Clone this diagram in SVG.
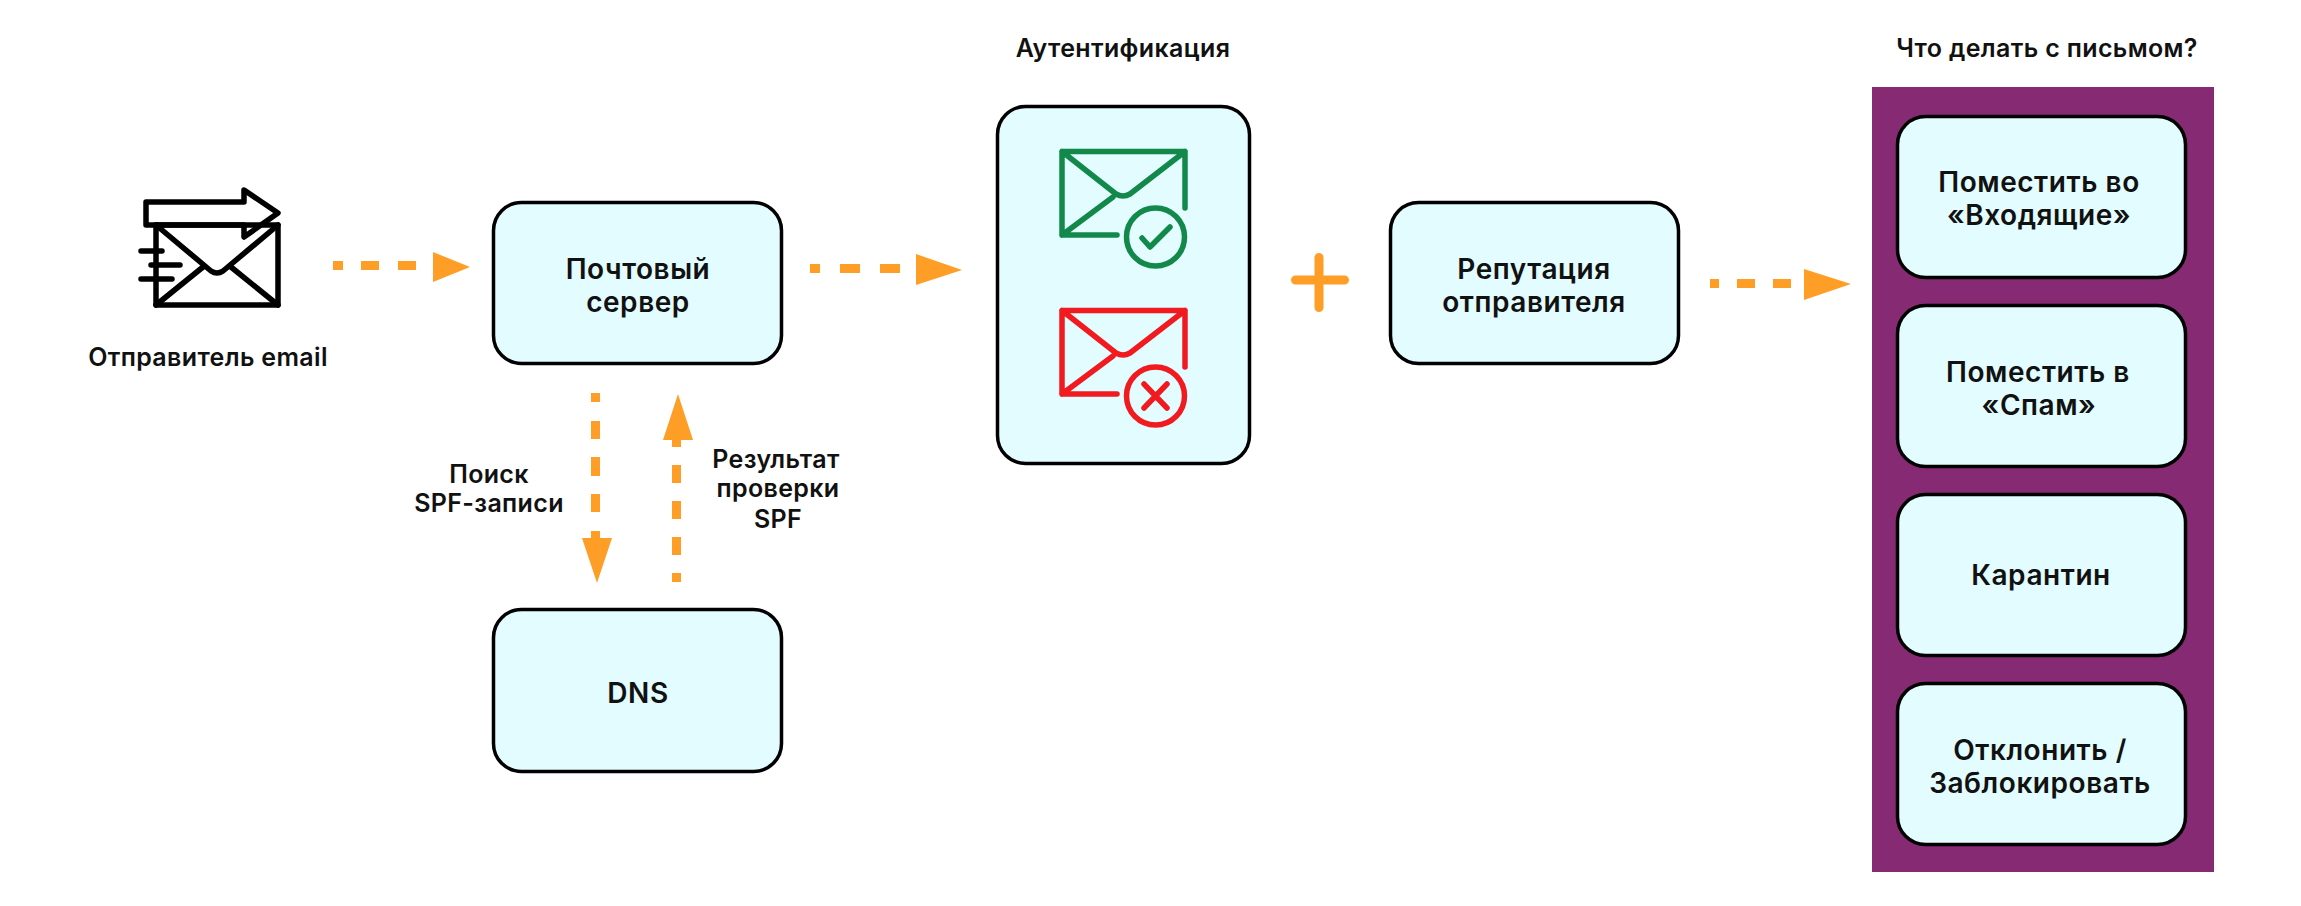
<svg xmlns="http://www.w3.org/2000/svg" width="2301" height="906" viewBox="0 0 2301 906">
<style>
.box{fill:#e2fcff;stroke:#000;stroke-width:3.500}
.t{font-family:Inter,"Noto Sans",sans-serif;font-weight:600;fill:#111;text-anchor:middle}
.big{font-size:28px;letter-spacing:.55px}
.sm{font-size:25px;letter-spacing:.35px}
.or{fill:#ff9e27}
.ic{fill:none;stroke-width:5.500;stroke-linecap:round;stroke-linejoin:round}
</style>
<rect width="2301" height="906" fill="#fff"/>
<g id="sender">
<g class="ic" stroke="#000">
<path d="M146 202H244V190L278 213L244 237V225H146Z" fill="#fff"/>
<path d="M156 225H278V305H156Z"/>
<path d="M156 225L211 271Q217 275 223 271L278 225M156 305L203 267M278 305L231 267M141 251H162M151 265H180M141 279H172"/>
</g>
<text class="t sm" x="208" y="366">Отправитель email</text>
</g>
<g id="server"><rect class="box" x="493.500" y="202.500" width="288" height="161" rx="28"/><text class="t big" x="638" y="279">Почтовый</text><text class="t big" x="638" y="312">сервер</text></g>
<g id="dns"><rect class="box" x="493.500" y="609.500" width="288" height="162" rx="28"/><text class="t big" x="638" y="703">DNS</text></g>
<g id="auth">
<rect class="box" x="997.500" y="106.500" width="252" height="357" rx="28"/>
<g class="ic" stroke="#12894a"><path d="M1185 208V151.500H1062V235H1117M1062 151.500L1116 194Q1123 198 1130 194L1185 151.500M1062 235L1113 197"/><circle cx="1155.500" cy="237" r="29"/><path d="M1142 238L1150 247L1170 227"/></g>
<g class="ic" stroke="#f01a1f"><path d="M1185 367V310.500H1062V394H1117M1062 310.500L1116 353Q1123 357 1130 353L1185 310.500M1062 394L1113 356"/><circle cx="1155.500" cy="396" r="29"/><path d="M1144 384L1167 408M1167 384L1144 408"/></g>
<text class="t sm" x="1123" y="57">Аутентификация</text>
</g>
<g id="reputation"><rect class="box" x="1390.500" y="202.500" width="288" height="161" rx="28"/><text class="t big" x="1534" y="279">Репутация</text><text class="t big" x="1534" y="312">отправителя</text></g>
<g id="plus"><path d="M1319 257.500V307.500M1295.500 280H1344.500" stroke="#ff9e27" stroke-width="9" stroke-linecap="round"/></g>
<g id="actions">
<rect x="1872" y="87" width="342" height="785" fill="#862a74"/>
<text class="t sm" x="2047" y="57">Что делать с письмом?</text>
<rect class="box" x="1897.500" y="116.500" width="288" height="161" rx="28"/><text class="t big" x="2039" y="192">Поместить во</text><text class="t big" x="2039" y="225">«Входящие»</text>
<rect class="box" x="1897.500" y="305.500" width="288" height="161" rx="28"/><text class="t big" x="2038" y="382">Поместить в</text><text class="t big" x="2039" y="415">«Спам»</text>
<rect class="box" x="1897.500" y="494.500" width="288" height="161" rx="28"/><text class="t big" x="2041" y="585">Карантин</text>
<rect class="box" x="1897.500" y="683.500" width="288" height="161" rx="28"/><text class="t big" x="2040" y="760">Отклонить /</text><text class="t big" x="2040" y="793">Заблокировать</text>
</g>
<g id="connectors">
<path class="or" d="M333 261h10v9h-10zM361 261h18v9h-18zM398 261h18v9h-18zM433 252L470 267L433 282Z"/>
<path class="or" d="M591 393h9v9h-9zM591 421h9v18h-9zM591 457h9v19h-9zM591 494h9v18h-9zM591 531h9v7h-9zM582 538H612L597 583Z"/>
<path class="or" d="M672 573h9v9h-9zM672 537h9v18h-9zM672 501h9v18h-9zM672 465h9v18h-9zM672 440h9v7h-9zM663 440H693L678 394Z"/>
<path class="or" d="M810 264h10v9h-10zM840 264h20v9h-20zM880 264h20v9h-20zM916 254L962 270L916 285Z"/>
<path class="or" d="M1710 279h9v9h-9zM1737 279h18v9h-18zM1773 279h18v9h-18zM1804 269L1851 284L1804 300Z"/>
</g>
<g id="labels">
<text class="t sm" x="489" y="483">Поиск</text><text class="t sm" x="489" y="512">SPF-записи</text>
<text class="t sm" x="776" y="468">Результат</text><text class="t sm" x="778" y="497">проверки</text><text class="t sm" x="778" y="528">SPF</text>
</g>
</svg>
